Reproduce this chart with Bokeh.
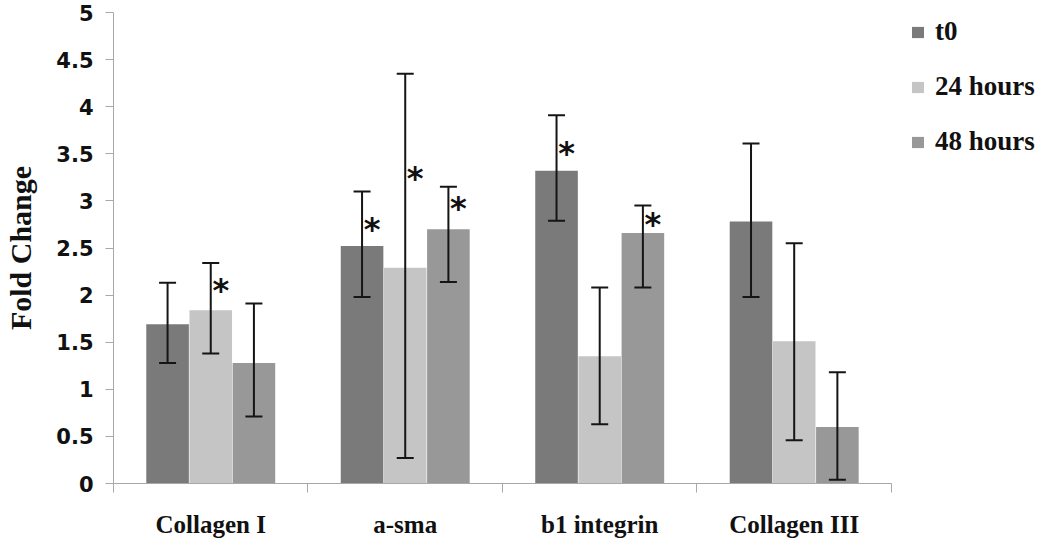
from bokeh.plotting import figure
from bokeh.models import (ColumnDataSource, FixedTicker, Whisker, TeeHead, Legend,
                          LegendItem, NumeralTickFormatter, Range1d)
from bokeh.transform import dodge
from bokeh.core.properties import value
from bokeh.embed import file_html
from bokeh.resources import INLINE

categories = ["Collagen I", "a-sma", "b1 integrin", "Collagen III"]
series = ["t0", "24 hours", "48 hours"]
colors = ["#7a7a7a", "#c5c5c5", "#989898"]

t0 = [1.69, 2.52, 3.32, 2.78]
h24 = [1.84, 2.29, 1.35, 1.51]
h48 = [1.28, 2.70, 2.66, 0.60]

t0_lo = [1.28, 1.98, 2.79, 1.98]
t0_hi = [2.13, 3.10, 3.91, 3.61]
h24_lo = [1.38, 0.27, 0.63, 0.46]
h24_hi = [2.34, 4.35, 2.08, 2.55]
h48_lo = [0.71, 2.14, 2.08, 0.04]
h48_hi = [1.91, 3.15, 2.95, 1.18]

# asterisk (significance) marks: None = no mark
t0_star = [None, 2.73, 3.54, None]
h24_star = [2.09, 3.27, None, None]
h48_star = [None, 2.96, 2.79, None]

y_ticks = [0, 0.5, 1, 1.5, 2, 2.5, 3, 3.5, 4, 4.5, 5]

xs = [i + 0.5 for i in range(len(categories))]
bar_w = 0.222
offsets = [-bar_w, 0.0, bar_w]
n = len(categories)

# frame extends to the right to host the legend; axis line bounded to the data
p = figure(width=1044, height=540, output_backend="svg", toolbar_location=None,
           x_range=Range1d(0, 4.787), y_range=Range1d(0, 5),
           min_border_left=113, min_border_right=0, min_border_top=12,
           min_border_bottom=57)
p.outline_line_color = None
p.xgrid.grid_line_color = None
p.ygrid.grid_line_color = None

axis_gray = "#a8a8a8"
serif = "Liberation Serif"
ink = "#111111"

# y axis
p.yaxis.ticker = FixedTicker(ticks=y_ticks)
p.yaxis.formatter = NumeralTickFormatter(format="0.[0]")
p.yaxis.axis_line_color = axis_gray
p.yaxis.major_tick_line_color = axis_gray
p.yaxis.major_tick_out = 8
p.yaxis.major_tick_in = 0
p.yaxis.minor_tick_line_color = None
p.yaxis.major_label_text_font = "DejaVu Sans"
p.yaxis.major_label_text_font_style = "bold"
p.yaxis.major_label_text_font_size = "21px"
p.yaxis.major_label_text_color = ink
p.yaxis.major_label_standoff = 12
p.yaxis.axis_label = "Fold Change"
p.yaxis.axis_label_text_font = serif
p.yaxis.axis_label_text_font_style = "bold"
p.yaxis.axis_label_text_font_size = "30px"
p.yaxis.axis_label_text_color = ink
p.yaxis.axis_label_standoff = 16

# x axis: ticks at group boundaries, labels at centres
p.xaxis.bounds = (0, n)
p.xaxis.ticker = FixedTicker(ticks=xs, minor_ticks=list(range(n + 1)))
p.xaxis.major_label_overrides = {x: c for x, c in zip(xs, categories)}
p.xaxis.axis_line_color = axis_gray
p.xaxis.major_tick_line_color = None
p.xaxis.major_tick_out = 0
p.xaxis.minor_tick_line_color = axis_gray
p.xaxis.minor_tick_out = 9
p.xaxis.minor_tick_in = 0
p.xaxis.major_label_text_font = serif
p.xaxis.major_label_text_font_style = "bold"
p.xaxis.major_label_text_font_size = "25px"
p.xaxis.major_label_text_color = ink
p.xaxis.major_label_standoff = 18

vals = [t0, h24, h48]
los = [t0_lo, h24_lo, h48_lo]
his = [t0_hi, h24_hi, h48_hi]
stars = [t0_star, h24_star, h48_star]

items = []
for k in range(3):
    src = ColumnDataSource(dict(x=xs, top=vals[k], lo=los[k], hi=his[k]))
    xd = dodge("x", offsets[k], range=p.x_range)
    r = p.vbar(x=xd, top="top", width=bar_w - 0.003, source=src,
               fill_color=colors[k], line_color=None)
    items.append(LegendItem(label=series[k], renderers=[r]))
    w = Whisker(source=src, base=dodge("x", offsets[k], range=p.x_range),
                upper="hi", lower="lo", line_color="#151515", line_width=2,
                upper_head=TeeHead(size=17, line_width=2, line_color="#151515"),
                lower_head=TeeHead(size=17, line_width=2, line_color="#151515"),
                level="overlay")
    p.add_layout(w)
    sx = [x for x, s in zip(xs, stars[k]) if s is not None]
    sy = [s for s in stars[k] if s is not None]
    ssrc = ColumnDataSource(dict(x=sx, y=sy, t=["*"] * len(sx)))
    p.text(x=dodge("x", offsets[k], range=p.x_range), y="y", text="t", source=ssrc,
           text_align="center", text_baseline="alphabetic", x_offset=10, y_offset=3,
           text_font=value("DejaVu Sans"), text_font_style="bold",
           text_font_size="32px", text_color=ink)

legend = Legend(items=items, location=(797, 326), orientation="vertical")
legend.border_line_color = None
legend.background_fill_alpha = 0
legend.glyph_width = 15
legend.glyph_height = 14
legend.label_text_font = serif
legend.label_text_font_style = "bold"
legend.label_text_font_size = "27px"
legend.label_text_color = ink
legend.label_standoff = 10
legend.spacing = 24
legend.margin = 0
legend.padding = 0
p.add_layout(legend, "center")

open("out.html", "w").write(file_html(p, INLINE))
